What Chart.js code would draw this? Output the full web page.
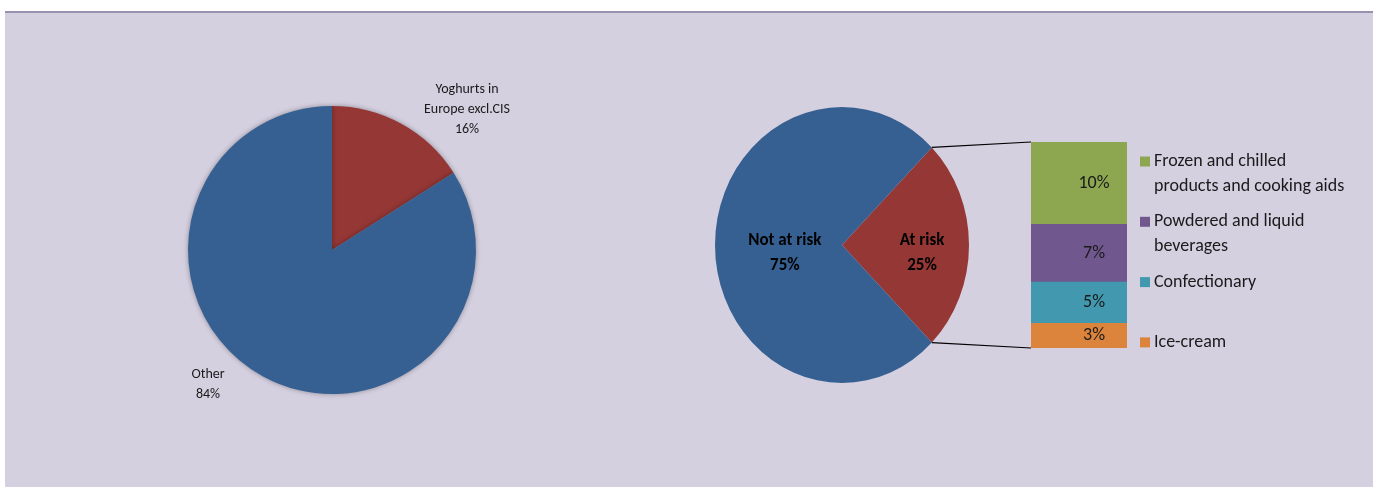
<!DOCTYPE html>
<html>
<head>
<meta charset="utf-8">
<script src="https://cdn.jsdelivr.net/npm/chart.js@4.4.1/dist/chart.umd.min.js"></script>
<style>
  html, body { margin: 0; padding: 0; background: #fff; }
  body { width: 1378px; height: 487px; position: relative; overflow: hidden; }
  #panel {
    position: absolute; left: 5px; top: 11px; width: 1368px; height: 480px;
    background: #d5d0e0; border-top: 2px solid #9891b0;
  }
  canvas { position: absolute; }
</style>
</head>
<body>
<div id="panel"></div>
<canvas id="leftPie" width="670" height="474" style="left:5px;top:13px"></canvas>
<canvas id="rightPie" width="692" height="474" style="left:680px;top:13px"></canvas>
<canvas id="breakdown" width="692" height="474" style="left:680px;top:13px"></canvas>
<script>
// --- data ---
const marketLabels = [['Yoghurts in', 'Europe excl.CIS'], ['Other']];
const marketValues = [16, 84];

const riskLabels = [['At risk'], ['Not at risk']];
const riskValues = [25, 75];

// top to bottom as in the legend
const breakdownLabels = [
  ['Frozen and chilled', 'products and cooking aids'],
  ['Powdered and liquid', 'beverages'],
  ['Confectionary'],
  ['Ice-cream']
];
const breakdownValues = [10, 7, 5, 3];

const FONT = 'Carlito, Calibri, Lato, sans-serif';
const BLUE = '#366092';
const RED = '#953735';
const breakdownColors = ['#8ca750', '#70588f', '#4198af', '#dc843c'];

Chart.defaults.animation = false;
Chart.defaults.font.family = FONT;

// left pie: labels outside the slices
const leftLabelPlugin = {
  id: 'leftLabels',
  beforeDatasetsDraw(chart) {
    const ctx = chart.ctx;
    ctx.save();
    ctx.shadowColor = 'rgba(0,0,0,0.35)';
    ctx.shadowBlur = 5;
  },
  afterDatasetsDraw(chart) {
    chart.ctx.restore();
  },
  afterDraw(chart) {
    const ctx = chart.ctx;
    const arcs = chart.getDatasetMeta(0).data;
    const offsets = [[135, -141], [-124, 134]]; // label block centre relative to pie centre
    ctx.save();
    ctx.font = '14px ' + FONT;
    ctx.fillStyle = '#1a1a1a';
    ctx.textAlign = 'center';
    ctx.textBaseline = 'middle';
    arcs.forEach((arc, i) => {
      const lines = marketLabels[i].concat([marketValues[i] + '%']);
      const x = arc.x + offsets[i][0];
      const y0 = arc.y + offsets[i][1] - (lines.length - 1) * 10;
      lines.forEach((t, j) => ctx.fillText(t, x, y0 + j * 20));
    });
    ctx.restore();
  }
};

new Chart(document.getElementById('leftPie'), {
  type: 'pie',
  data: {
    labels: marketLabels.map(l => l.join(' ')),
    datasets: [{
      data: marketValues,
      backgroundColor: [RED, BLUE],
      borderWidth: 0
    }]
  },
  options: {
    responsive: false,
    layout: { padding: { left: 183, right: 199, top: 93, bottom: 93 } },
    plugins: { legend: { display: false }, tooltip: { enabled: false } }
  },
  plugins: [leftLabelPlugin]
});

// right pie is drawn a bit taller than wide, like the original
const STRETCH = 138 / 127;

const stretchPlugin = {
  id: 'stretch',
  beforeDatasetsDraw(chart) {
    const arc = chart.getDatasetMeta(0).data[0];
    const ctx = chart.ctx;
    ctx.save();
    ctx.translate(arc.x, arc.y);
    ctx.scale(1, STRETCH);
    ctx.translate(-arc.x, -arc.y);
  },
  afterDatasetsDraw(chart) {
    chart.ctx.restore();
  },
  afterDraw(chart) {
    const ctx = chart.ctx;
    const arcs = chart.getDatasetMeta(0).data;
    ctx.save();
    ctx.font = 'bold 17px ' + FONT;
    ctx.fillStyle = '#000';
    ctx.textAlign = 'center';
    ctx.textBaseline = 'middle';
    const dist = [0.63, 0.45];
    arcs.forEach((arc, i) => {
      const mid = (arc.startAngle + arc.endAngle) / 2;
      const x = arc.x + Math.cos(mid) * arc.outerRadius * dist[i];
      const y = arc.y + Math.sin(mid) * arc.outerRadius * dist[i] * STRETCH + 8;
      ctx.fillText(riskLabels[i][0], x, y - 12);
      ctx.fillText(riskValues[i] + '%', x, y + 13);
    });
    ctx.restore();
  }
};

const riskChart = new Chart(document.getElementById('rightPie'), {
  type: 'pie',
  data: {
    labels: riskLabels.map(l => l[0]),
    datasets: [{
      data: riskValues,
      backgroundColor: [RED, BLUE],
      borderWidth: 0
    }]
  },
  options: {
    responsive: false,
    rotation: 45,
    layout: { padding: { left: 35, right: 403, top: 105, bottom: 115 } },
    plugins: { legend: { display: false }, tooltip: { enabled: false } }
  },
  plugins: [stretchPlugin]
});

// stacked column with the split of "At risk", plus legend and connector lines
const breakdownPlugin = {
  id: 'breakdownExtras',
  afterDraw(chart) {
    const ctx = chart.ctx;
    const n = breakdownValues.length;
    // datasets are stacked bottom-up, so dataset k holds breakdown index n-1-k
    const topBar = chart.getDatasetMeta(n - 1).data[0];
    const bottomBar = chart.getDatasetMeta(0).data[0];
    const left = topBar.x - topBar.width / 2;

    // value labels inside each segment
    ctx.save();
    ctx.font = '18px ' + FONT;
    ctx.fillStyle = '#1a1a1a';
    ctx.textAlign = 'center';
    ctx.textBaseline = 'middle';
    for (let k = 0; k < n; k++) {
      const bar = chart.getDatasetMeta(k).data[0];
      ctx.fillText(breakdownValues[n - 1 - k] + '%', bar.x + 15, (bar.y + bar.base) / 2);
    }

    // legend
    const lx = chart.chartArea.right + 13;
    ctx.textAlign = 'left';
    breakdownLabels.forEach((lines, i) => {
      const y = 148.5 + i * 60.3;
      ctx.fillStyle = breakdownColors[i];
      ctx.fillRect(lx, y - 5, 10, 10);
      ctx.fillStyle = '#1a1a1a';
      lines.forEach((t, j) => ctx.fillText(t, lx + 14, y + j * 24.5));
    });

    // connector lines from the pie slice to the column
    const arc = riskChart.getDatasetMeta(0).data[0];
    const p = a => [arc.x + Math.cos(a) * arc.outerRadius, arc.y + Math.sin(a) * arc.outerRadius * STRETCH];
    const a1 = p(arc.startAngle);
    const a2 = p(arc.endAngle);
    ctx.strokeStyle = '#000';
    ctx.lineWidth = 1.2;
    ctx.beginPath();
    ctx.moveTo(a1[0], a1[1]);
    ctx.lineTo(left, topBar.y);
    ctx.moveTo(a2[0], a2[1]);
    ctx.lineTo(left, bottomBar.base);
    ctx.stroke();
    ctx.restore();
  }
};

const stackOrder = breakdownValues.map((v, i) => i).reverse();
new Chart(document.getElementById('breakdown'), {
  type: 'bar',
  data: {
    labels: ['At risk'],
    datasets: stackOrder.map(i => ({
      label: breakdownLabels[i].join(' '),
      data: [breakdownValues[i]],
      backgroundColor: breakdownColors[i],
      borderWidth: 0,
      barPercentage: 1,
      categoryPercentage: 1
    }))
  },
  options: {
    responsive: false,
    layout: { padding: { left: 351, right: 245, top: 129, bottom: 139 } },
    scales: {
      x: { stacked: true, display: false },
      y: { stacked: true, display: false, min: 0, max: 25 }
    },
    plugins: { legend: { display: false }, tooltip: { enabled: false } }
  },
  plugins: [breakdownPlugin]
});
</script>
</body>
</html>
